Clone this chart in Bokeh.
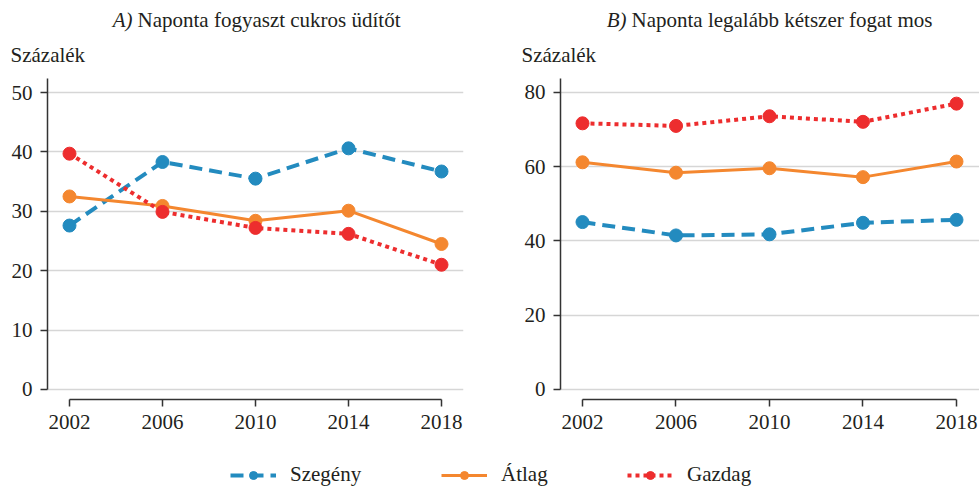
from bokeh.plotting import figure
from bokeh.layouts import column, row
from bokeh.models import Range1d, FixedTicker, Label, Legend, LegendItem
from bokeh.embed import file_html
from bokeh.resources import INLINE

# ---- data ----
years = [2002, 2006, 2010, 2014, 2018]
a_szegeny = [27.6, 38.3, 35.5, 40.6, 36.7]
a_atlag = [32.5, 30.9, 28.4, 30.1, 24.5]
a_gazdag = [39.7, 29.9, 27.2, 26.2, 21.0]
b_szegeny = [45.1, 41.5, 41.8, 44.9, 45.7]
b_atlag = [61.2, 58.4, 59.6, 57.2, 61.4]
b_gazdag = [71.7, 71.0, 73.6, 72.1, 77.0]
a_yticks = [0, 10, 20, 30, 40, 50]
b_yticks = [0, 20, 40, 60, 80]
series_names = ["Szegény", "Átlag", "Gazdag"]
title_a = ("A)", "Naponta fogyaszt cukros üdítőt")
title_b = ("B)", "Naponta legalább kétszer fogat mos")
y_label = "Százalék"

# ---- style ----
FONT = "Liberation Serif"
FS = "21px"
TXT = "#231f20"
BLUE, ORANGE, RED = "#238bbf", "#f4872f", "#ed2d2e"
styles = [
    dict(color=BLUE, line_width=4, line_dash="13 7"),
    dict(color=ORANGE, line_width=3, line_dash="solid"),
    dict(color=RED, line_width=4, line_dash="4 4"),
]
AX = "#333333"
W, HTOT = 979, 487
HEAD = 74          # header strip (titles + "Százalék")
PANEL_H = 374      # panel figures
FRAME_TOP_IN_PANEL = 4
FRAME_BOTTOM_IN_PANEL = 325


def make_panel(width, min_left, min_right, xr, yr, yticks, data):
    p = figure(width=width, height=PANEL_H, x_range=Range1d(*xr), y_range=Range1d(*yr),
               title=None, toolbar_location=None, output_backend="svg",
               min_border_left=min_left, min_border_right=min_right,
               min_border_top=FRAME_TOP_IN_PANEL,
               min_border_bottom=PANEL_H - FRAME_BOTTOM_IN_PANEL)
    p.outline_line_color = None
    p.xgrid.visible = False
    p.ygrid.grid_line_color = "#d6d6d6"
    p.ygrid.grid_line_width = 1.5
    for ax in (p.xaxis[0], p.yaxis[0]):
        ax.axis_line_color = AX
        ax.axis_line_width = 1.5
        ax.major_tick_line_color = AX
        ax.major_tick_line_width = 1.5
        ax.major_tick_in = 0
        ax.major_tick_out = 7
        ax.minor_tick_line_color = None
        ax.major_label_text_font = FONT
        ax.major_label_text_font_size = FS
        ax.major_label_text_color = TXT
        ax.major_label_standoff = 8
    p.xaxis.ticker = FixedTicker(ticks=years)
    p.yaxis.ticker = FixedTicker(ticks=yticks)
    p.xaxis.bounds = (years[0], years[-1])
    p.yaxis.bounds = (0, yr[1])

    for vals, st in zip(data, styles):
        p.line(years, vals, line_color=st["color"], line_width=st["line_width"],
               line_dash=st["line_dash"])
        p.scatter(years, vals, size=13, fill_color=st["color"], line_color=st["color"])
    return p


p1 = make_panel(518, 47, 55, (2001.054, 2018.946), (-1.684, 52.357), a_yticks,
                [a_szegeny, a_atlag, a_gazdag])
p2 = make_panel(461, 42, 0, (2001.059, 2018.984), (-2.694, 83.771), b_yticks,
                [b_szegeny, b_atlag, b_gazdag])

# ---- header strip: panel titles and the "Százalék" labels (pixel space) ----
ph = figure(width=W, height=HEAD, x_range=Range1d(0, W), y_range=Range1d(HEAD, 0),
            title=None, toolbar_location=None, output_backend="svg", x_axis_type=None,
            y_axis_type=None, min_border=0)
ph.outline_line_color = None
common = dict(text_font=FONT, text_font_size=FS, text_color=TXT, text_baseline="alphabetic")
TITLE_Y, YLAB_Y = 19, 54
for (letter, text), ax_right, ylab_x in [(title_a, 132, 10), (title_b, 626, 521)]:
    ph.add_layout(Label(x=ax_right, y=TITLE_Y, text=letter, text_font_style="italic",
                        text_align="right", **common))
    ph.add_layout(Label(x=ax_right + 5, y=TITLE_Y, text=text, text_align="left", **common))
    ph.add_layout(Label(x=ylab_x, y=YLAB_Y, text=y_label, text_align="left", **common))

# ---- legend strip ----
LH = HTOT - HEAD - PANEL_H
pl = figure(width=W, height=LH, x_range=Range1d(0, W), y_range=Range1d(0, LH),
            title=None, toolbar_location=None, output_backend="svg", x_axis_type=None,
            y_axis_type=None, min_border=0)
pl.outline_line_color = None
legend_x = [230, 441, 627]
for name, st, lx in zip(series_names, styles, legend_x):
    r1 = pl.line([-20, -10], [-20, -20], line_color=st["color"], line_width=st["line_width"],
                 line_dash=st["line_dash"])
    r2 = pl.scatter([-20], [-20], size=13, fill_color=st["color"], line_color=st["color"])
    lg = Legend(items=[LegendItem(label=name, renderers=[r1, r2])], location=(lx, 0),
                glyph_width=46, glyph_height=20, label_standoff=14, padding=0, margin=0,
                border_line_color=None, background_fill_alpha=0,
                label_text_font=FONT, label_text_font_size=FS, label_text_color=TXT)
    pl.add_layout(lg, "center")

layout = column(ph, row(p1, p2), pl)
open("out.html", "w").write(file_html(layout, INLINE))
